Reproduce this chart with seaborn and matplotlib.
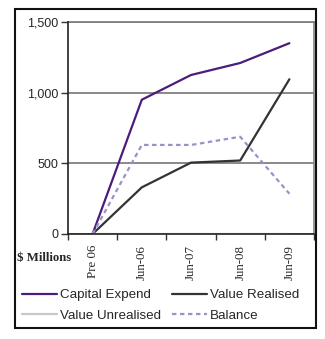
import matplotlib
matplotlib.use("Agg")
import matplotlib.pyplot as plt
import seaborn as sns
import pandas as pd
from matplotlib.patches import Rectangle
from matplotlib.lines import Line2D
from matplotlib.ticker import FuncFormatter

categories = ["Pre 06", "Jun-06", "Jun-07", "Jun-08", "Jun-09"]
capital_expend = [0, 950, 1125, 1210, 1350]
value_realised = [0, 330, 505, 520, 1095]
value_unrealised = [0, 0, 0, 0, 0]
balance = [0, 630, 630, 688, 285]
series_names = ["Capital Expend", "Value Realised", "Value Unrealised", "Balance"]

sns.set_theme(style="white")
plt.rcParams['font.family'] = ['Liberation Sans', 'DejaVu Sans']

rows = []
for name, vals in zip(series_names, [capital_expend, value_realised, value_unrealised, balance]):
    for i, v in enumerate(vals):
        rows.append({"idx": i, "value": v, "series": name})
df = pd.DataFrame(rows)

palette = {"Capital Expend": "#4B1C7E", "Value Realised": "#333333",
           "Value Unrealised": "#C8C8C8", "Balance": "#9F8FC6"}
dashes = {"Capital Expend": "", "Value Realised": "", "Value Unrealised": "", "Balance": (2, 1.6)}

fig = plt.figure(figsize=(3.25, 3.39), dpi=100)
ax = fig.add_axes([68/325, 1-234/339, (314-68)/325, (234-22)/339])

sns.lineplot(data=df, x="idx", y="value", hue="series", style="series",
             hue_order=series_names, style_order=series_names,
             palette=palette, dashes=dashes, linewidth=1.6, ax=ax, legend=False, zorder=3)

ax.set_xlim(-0.5, 4.5)
ax.set_ylim(0, 1500)
ax.set_yticks([0, 500, 1000, 1500])
ax.yaxis.set_major_formatter(FuncFormatter(lambda v, p: f"{int(v):,}"))
ax.set_xticks(range(len(categories)))
ax.set_xticklabels(categories, rotation=90, family=['Liberation Serif'], fontsize=9.3)
ax.set_xticks([-0.5, 0.5, 1.5, 2.5, 3.5, 4.5], minor=True)
ax.tick_params(axis='x', which='major', length=0, pad=8)
ax.tick_params(axis='x', which='minor', length=4, width=1, color='#333333', direction='out', bottom=True)
ax.tick_params(axis='y', length=5, width=1, color='#333333', direction='out', left=True, labelsize=9, pad=2)
ax.set_xlabel("")
ax.set_ylabel("")

ax.grid(axis='y', color='#808080', linewidth=1.3)
ax.set_axisbelow(True)
for s in ['left', 'bottom']:
    ax.spines[s].set_color('#222222')
    ax.spines[s].set_linewidth(1.2)
    ax.spines[s].set_zorder(4)
ax.spines['right'].set_color('#909090')
ax.spines['right'].set_linewidth(1.3)
ax.spines['top'].set_color('#808080')
ax.spines['top'].set_linewidth(1.3)

fig.text(17/325, 1-258/339, "$ Millions", family=['Liberation Serif'], fontweight='bold',
         fontsize=9.2, va='center', ha='left')

legend_order = ["Capital Expend", "Value Unrealised", "Value Realised", "Balance"]
handles = [Line2D([], [], color=palette[n], linewidth=1.6,
                  linestyle=(0, dashes[n]) if dashes[n] else '-') for n in legend_order]
fig.legend(handles, legend_order, ncol=2, loc='upper left',
           bbox_to_anchor=(22/325, 1-289/339), frameon=False, fontsize=9.6,
           handlelength=2.6, handletextpad=0.25, columnspacing=0.85, labelspacing=0.6,
           borderaxespad=0, borderpad=0)

fig.patches.append(Rectangle((15/325, 1-328/339), (316-15)/325, (328-9)/339,
                             transform=fig.transFigure, fill=False, edgecolor='#111111',
                             linewidth=1.5, zorder=10))

fig.savefig("out.png", dpi=100)
